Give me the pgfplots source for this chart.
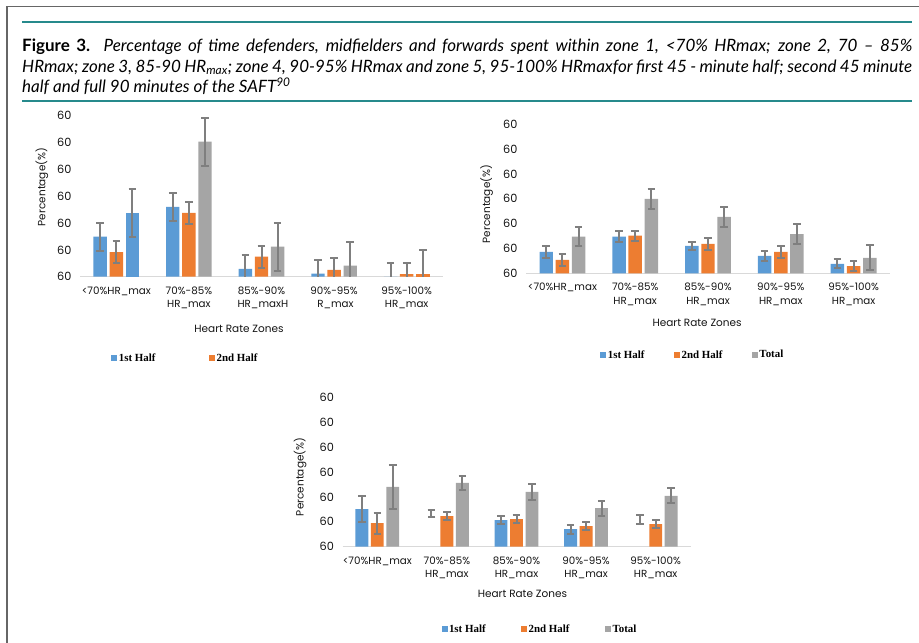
\documentclass[border=0pt]{standalone}
\usepackage{fontspec}
\setmainfont{Poppins}
\newfontfamily\capfont{Lato}
\newfontfamily\legfont{Liberation Serif}
\usepackage{pgfplots}
\pgfplotsset{compat=1.18}
\definecolor{cblue}{RGB}{91,155,213}
\definecolor{corange}{RGB}{237,125,49}
\definecolor{cgray}{RGB}{165,165,165}
\definecolor{cerr}{RGB}{127,127,127}
\definecolor{tealrule}{RGB}{38,138,140}
\definecolor{txt}{RGB}{20,20,20}

\pgfplotsset{
  hr/.style={
    scale only axis,
    ybar, bar width=0.185,
    xmin=-0.5, xmax=4.5, ymin=0, ymax=6,
    enlargelimits=false,
    xtick={0,...,4}, ytick={0,...,6},
    yticklabel={60},
    axis line style={draw=none},
    major tick length=0pt,
    extra y ticks={0},
    extra y tick style={yticklabel={}, ymajorgrids=true,
      major grid style={draw=black!15, line width=1.2pt}},
    yticklabel style={font=\fontsize{11.3}{12}\selectfont, text=txt, xshift=-5pt},
    xticklabel style={font=\fontsize{10.3}{13.5}\selectfont, text=txt, align=center, yshift=-6.5pt},
    ylabel={Percentage(\%)},
    xlabel={Heart Rate Zones},
    label style={font=\fontsize{10.5}{12}\selectfont, text=txt},
    legend image code/.code={\fill[##1] (0pt,-3pt) rectangle (6pt,3pt);},
    legend style={draw=none, fill=none, inner sep=0pt, legend columns=-1,
      font=\legfont\bfseries\fontsize{10.9}{12}\selectfont,
      nodes={inner xsep=1.5pt, inner ysep=1pt}},
  },
  eb/.style={error bars/.cd, y dir=both, y explicit,
    error bar style={cerr, line width=2pt},
    error mark=-,
    error mark options={cerr, rotate=90, mark size=3.8pt, line width=2pt}},
}

\begin{document}
\begin{tikzpicture}[x=1pt,y=1pt]
\useasboundingbox (0,0) rectangle (919,643);
% frame
\draw[black!60, line width=1.5pt] (7,0) -- (7,636.5) -- (919,636.5);
\draw[tealrule, line width=1.8pt] (22,620.7) -- (912,620.7);
\draw[tealrule, line width=1.2pt] (22,542) -- (912,542);
% caption
\node[anchor=north west, inner sep=0pt,
      font=\capfont\fontsize{17}{20.5}\selectfont] at (22,604) {\vbox{%
\hbox to 890pt{\textbf{Figure 3.} \textit{Percentage of time defenders, midfielders and forwards spent within zone 1, <70\% HRmax; zone 2, 70 – 85\%}}%
\hbox to 890pt{\textit{HRmax; zone 3, 85-90 HR\textsubscript{max}; zone 4, 90-95\% HRmax and zone 5, 95-100\% HRmaxfor first 45 - minute half; second 45 minute}}%
\hbox{\textit{half and full 90 minutes of the SAFT\textsuperscript{90}}}}};

% ---------- chart 1 ----------
\begin{axis}[hr,
  at={(80pt,366.3pt)}, anchor=south west,
  width=363pt, height=161pt,
  xticklabels={{<70\%HR\_max},{70\%-85\%\\HR\_max},{85\%-90\%\\ \ HR\_maxH},{90\%-95\%\\ \ R\_max},{95\%-100\%\\HR\_max}},
  xlabel style={at={(axis description cs:0.438,0)}, anchor=center, yshift=-52pt},
  ylabel style={at={(axis description cs:-0.105,0.557)}, anchor=center},
  legend style={at={(axis description cs:0.086,-0.505)}, anchor=west,
    /tikz/every even column/.append style={column sep=52pt}},
]
\addplot[fill=cblue, draw=none, bar shift=-0.222, eb] coordinates {
  (0,1.49) +- (0,0.52) (1,2.60) +- (0,0.52) (2,0.29) +- (0,0.52) (3,0.11) +- (0,0.52) (4,0) +- (0,0.50)};
\addplot[fill=corange, draw=none, bar shift=0, eb] coordinates {
  (0,0.92) +- (0,0.40) (1,2.38) +- (0,0.41) (2,0.75) +- (0,0.41) (3,0.25) +- (0,0.45) (4,0.10) +- (0,0.40)};
\addplot[fill=cblue, draw=none, bar shift=0.222, forget plot, eb] coordinates {
  (0,2.38) +- (0,0.90)};
\addplot[fill=cgray, draw=none, bar shift=0.222, forget plot, eb] coordinates {
  (1,5.03) +- (0,0.89) (2,1.12) +- (0,0.89) (3,0.41) +- (0,0.90)};
\addplot[fill=corange, draw=none, bar shift=0.222, forget plot, eb] coordinates {
  (4,0.10) +- (0,0.90)};
\legend{1st Half, 2nd Half}
\end{axis}

% ---------- chart 2 ----------
\begin{axis}[hr,
  at={(526pt,369.7pt)}, anchor=south west,
  width=364pt, height=149pt,
  xticklabels={{<70\%HR\_max},{70\%-85\%\\HR\_max},{85\%-90\%\\HR\_max},{90\%-95\%\\HR\_max},{95\%-100\%\\HR\_max}},
  xlabel style={at={(axis description cs:0.47,0)}, anchor=center, yshift=-49.7pt},
  ylabel style={at={(axis description cs:-0.108,0.465)}, anchor=center},
  legend style={at={(axis description cs:0.204,-0.548)}, anchor=west,
    /tikz/every even column/.append style={column sep=28pt}},
]
\addplot[fill=cblue, draw=none, bar shift=-0.222, eb] coordinates {
  (0,0.86) +- (0,0.24) (1,1.48) +- (0,0.21) (2,1.10) +- (0,0.16) (3,0.70) +- (0,0.20) (4,0.38) +- (0,0.18)};
\addplot[fill=corange, draw=none, bar shift=0, eb] coordinates {
  (0,0.54) +- (0,0.24) (1,1.52) +- (0,0.20) (2,1.18) +- (0,0.23) (3,0.86) +- (0,0.23) (4,0.29) +- (0,0.20)};
\addplot[fill=cgray, draw=none, bar shift=0.222, eb] coordinates {
  (0,1.48) +- (0,0.40) (1,3.00) +- (0,0.40) (2,2.27) +- (0,0.40) (3,1.58) +- (0,0.40) (4,0.62) +- (0,0.50)};
\legend{1st Half, 2nd Half, Total}
\end{axis}

% ---------- chart 3 ----------
\begin{axis}[hr,
  at={(342.5pt,96.3pt)}, anchor=south west,
  width=348pt, height=149.4pt,
  xticklabels={{<70\%HR\_max},{70\%-85\%\\HR\_max},{85\%-90\%\\HR\_max},{90\%-95\%\\HR\_max},{95\%-100\%\\HR\_max}},
  xlabel style={at={(axis description cs:0.517,0)}, anchor=center, yshift=-47.3pt},
  ylabel style={at={(axis description cs:-0.122,0.467)}, anchor=center},
  legend style={at={(axis description cs:0.284,-0.551)}, anchor=west,
    /tikz/every even column/.append style={column sep=34pt}},
]
\addplot[fill=cblue, draw=none, bar shift=-0.222, eb] coordinates {
  (0,1.51) +- (0,0.53) (2,1.07) +- (0,0.16) (3,0.71) +- (0,0.18)};
\addplot[fill=corange, draw=none, bar shift=0, eb] coordinates {
  (0,0.95) +- (0,0.42) (1,1.23) +- (0,0.16) (2,1.11) +- (0,0.15) (3,0.83) +- (0,0.15) (4,0.91) +- (0,0.16)};
\addplot[fill=cgray, draw=none, bar shift=0.222, eb] coordinates {
  (0,2.40) +- (0,0.90) (1,2.56) +- (0,0.29) (2,2.20) +- (0,0.31) (3,1.55) +- (0,0.30) (4,2.04) +- (0,0.30)};
\addplot[fill=none, draw=none, bar shift=-0.222, forget plot, eb] coordinates {
  (1,1.33) +- (0,0.14) (4,1.09) +- (0,0.18)};
\legend{1st Half, 2nd Half, Total}
\end{axis}
\end{tikzpicture}
\end{document}
